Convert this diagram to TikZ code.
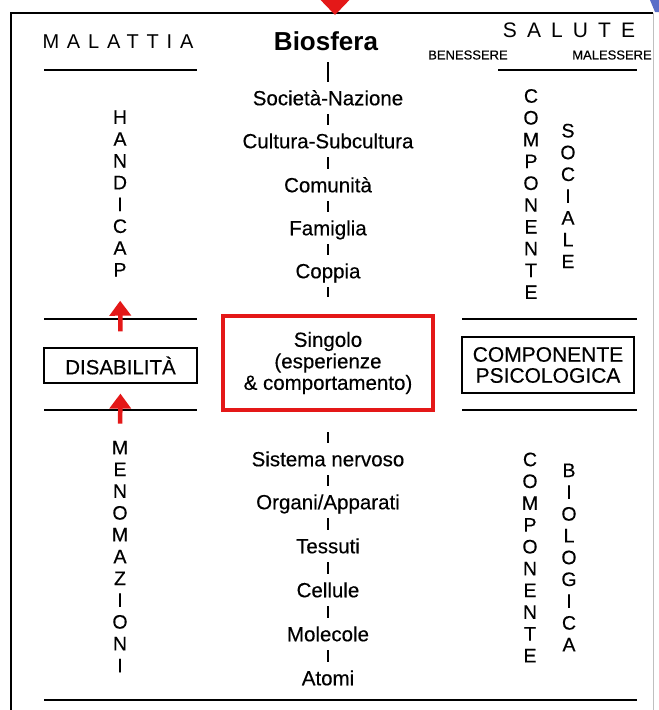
\documentclass[tikz,border=0pt]{standalone}
\usepackage{fontspec}
\setmainfont{Liberation Sans}[UprightFeatures={FakeBold=0.35}]
\newfontfamily\thinfont{Liberation Sans}
\usetikzlibrary{arrows.meta}
\definecolor{boxred}{RGB}{228,24,24}
\definecolor{cornerblue}{RGB}{90,110,200}
\tikzset{
  lvl/.style={font=\fontsize{20.5}{24}\selectfont, inner sep=0pt, text height=14.5pt, text depth=0pt},
  bar/.style={line width=2.2pt, shorten <=9pt, shorten >=9pt},
  rule/.style={line width=1.8pt},
  vword/.style={align=center, inner sep=0pt, font=\fontsize{19.5}{21.8}\selectfont},
  framebox/.style={draw, line width=1.2pt, inner sep=0pt},
  upred/.style={boxred, line width=4.5pt, -{Triangle[width=21pt,length=15pt]}},
}
\begin{document}
\begin{tikzpicture}[x=1pt, y=-1pt]
\useasboundingbox (0,0) rectangle (659,710);
\fill[white] (0,0) rectangle (659,710);
%%%% Frame and red tip on top:
\draw[line width=2pt] (11,710) -- (11,13) -- (653,13);
\draw[gray!50, line width=1pt] (653,13) -- (653,710);
\fill[boxred] (311,-10) -- (335,15) -- (359,-10) -- cycle;
\fill[cornerblue] (650,0) -- (659,0) -- (659,12) -- (655,12) -- cycle;

%%%% Headings
\node[font={\thinfont\fontsize{20}{24}\selectfont\addfontfeatures{LetterSpace=39}}] (mal) at (118,42) {MALATTIA};
\node[lvl, font=\bfseries\fontsize{26}{30}\selectfont, text height=18.5pt] (bio) at (326,41) {Biosfera};
\node[font={\thinfont\fontsize{21}{24}\selectfont\addfontfeatures{LetterSpace=48}}] (sal) at (569,30) {SALUTE};
\node[font=\fontsize{13}{15}\selectfont] (ben) at (468,55) {BENESSERE};
\node[font=\fontsize{13}{15}\selectfont] (male) at (612,55) {MALESSERE};

%%%% Rules
\draw[rule] (44,70) -- (197,70);
\draw[rule] (498,70) -- (637,70);
\foreach \y in {319,410} {
  \draw[rule] (44,\y) -- (197,\y);
  \draw[rule] (462,\y) -- (637,\y);
}
\draw[rule] (44,700) -- (637,700);

%%%% Centre column, upper part
\node[lvl] (soc) at (328,98) {Società-Nazione};
\node[lvl] (cul) at (328,141) {Cultura-Subcultura};
\node[lvl] (com) at (328,185) {Comunità};
\node[lvl] (fam) at (328,228) {Famiglia};
\node[lvl] (cop) at (328,271) {Coppia};
%%%% Singolo in the red box
\node[draw=boxred, line width=4pt, minimum width=210pt, minimum height=94pt, align=center,
  font=\fontsize{20.5}{21.5}\selectfont] (sing) at (328,363) {Singolo\\(esperienze\\\& comportamento)};
%%%% Centre column, lower part
\node[lvl] (sist) at (328,459) {Sistema nervoso};
\node[lvl] (org) at (328,502) {Organi/Apparati};
\node[lvl] (tes) at (328,546) {Tessuti};
\node[lvl] (cel) at (328,590) {Cellule};
\node[lvl] (mol) at (328,634) {Molecole};
\node[lvl] (ato) at (328,678) {Atomi};

%%%% Bars between the levels
\draw[bar, line width=2.6pt, shorten <=12pt] (bio.south -| soc.north) -- (soc.north);
\foreach \a/\b in {soc/cul, cul/com, com/fam, fam/cop, sist/org, org/tes, tes/cel, cel/mol, mol/ato}
  \draw[bar] (\a) -- (\b);
\draw[bar, shorten >=17pt] (cop) -- (sing);
\draw[bar, shorten <=20pt] (sing) -- (sist);

%%%% Left column
\node[vword] (hand) at (120,193.5) {H\\A\\N\\D\\I\\C\\A\\P};
\node[framebox, minimum width=153pt, minimum height=35pt, font=\fontsize{20.5}{23}\selectfont] (disab) at (120.5,365.5) {DISABILITÀ};
\node[vword] (meno) at (120,556.5) {M\\E\\N\\O\\M\\A\\Z\\I\\O\\N\\I};
\draw[upred, shorten <=16pt, shorten >=24pt] (disab.north) -- (hand.south);
\draw[upred, shorten <=17pt, shorten >=10pt] (meno.north) -- (disab.south);

%%%% Right column
\node[vword] (comps) at (531,194) {C\\O\\M\\P\\O\\N\\E\\N\\T\\E};
\node[vword] (soci) at (568,196) {S\\O\\C\\I\\A\\L\\E};
\node[framebox, minimum width=172pt, minimum height=56pt, align=center,
  font=\fontsize{21}{21}\selectfont] (psi) at (548,365) {COMPONENTE\\PSICOLOGICA};
\node[vword] (compb) at (530,557.5) {C\\O\\M\\P\\O\\N\\E\\N\\T\\E};
\node[vword] (biol) at (569,557.5) {B\\I\\O\\L\\O\\G\\I\\C\\A};
\end{tikzpicture}
\end{document}
